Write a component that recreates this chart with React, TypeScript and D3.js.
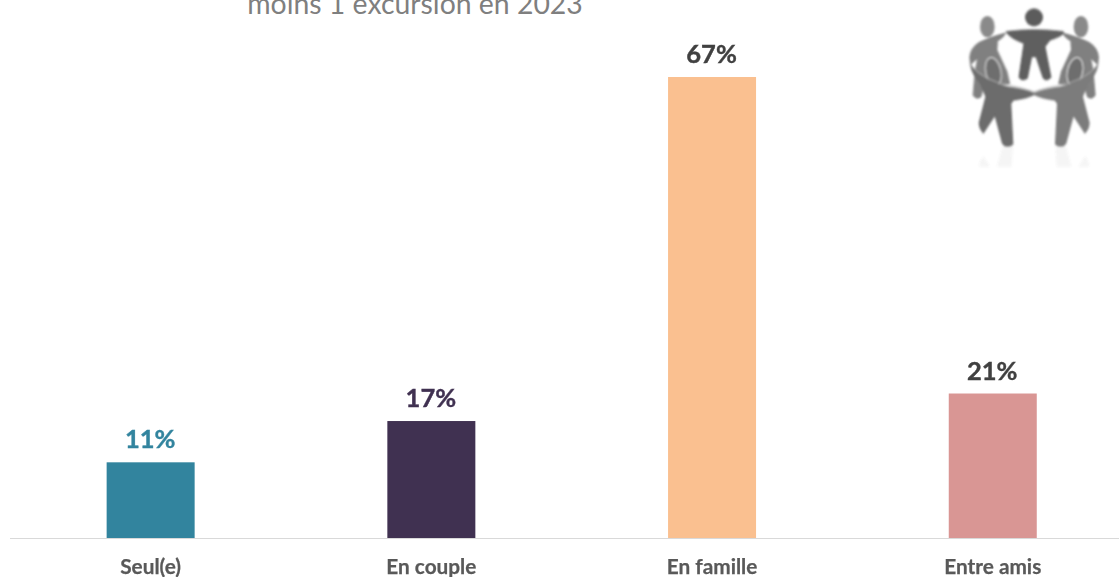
import React from "react";
import * as d3 from "d3";

const categories = ["Seul(e)", "En couple", "En famille", "Entre amis"];
const values = [11, 17, 67, 21];
const barColors = ["#32849e", "#403151", "#fac090", "#d99694"];
const labelColors = ["#32849e", "#403151", "#404040", "#404040"];
const titleLine = "moins 1 excursion en 2023";

const W = 1119, H = 577;
const x = d3.scaleBand<string>().domain(categories).range([10.3, 1133.1]).paddingInner(0.6865).paddingOuter(0.3432);
const y = d3.scaleLinear().domain([0, 67]).range([538, 77]);
const font = "Lato, Carlito, 'Open Sans', sans-serif";
const frontPath = "M62,195 Q100,245 175,262 Q225,268 255,282 Q230,295 190,300 L182,310 L188,432 Q170,445 158,430 L135,345 L100,398 Q88,385 88,368 L108,290 L92,250 Q68,225 62,195 Z";

function Side() {
  return (
    <g>
      <ellipse cx={112} cy={80} rx={22} ry={32} fill="#8a8a8a" />
      <path d="M165,100 Q120,112 88,128 Q62,145 60,172 L62,192 L84,172 L76,215 L70,285 Q78,300 92,290 L100,262 L178,250 L170,215 L140,150 L142,122 Q160,112 165,100 Z" fill="#808080" stroke="#808080" strokeWidth={4} />
      <ellipse cx={130} cy={215} rx={23} ry={43} transform="rotate(-12 130 215)" fill="#6e6e6e" stroke="#e8e8e8" strokeWidth={3} />
    </g>
  );
}

function Icon() {
  return (
    <g transform="translate(950,0) scale(0.3333)" filter="url(#soft)">
      <g clipPath="url(#reflectClip)">
        <g opacity={0.07} transform="translate(0,868) scale(1,-1)">
          <path d={frontPath} fill="#6c6c6c" />
          <g transform="translate(505,0) scale(-1,1)"><path d={frontPath} fill="#6c6c6c" /></g>
        </g>
      </g>
      <Side />
      <g transform="translate(505,0) scale(-1,1)"><Side /></g>
      <circle cx={252} cy={52} r={27} fill="#5c5c5c" />
      <path d="M168,95 Q252,84 340,95 Q345,106 300,120 L285,140 L303,232 Q290,245 280,235 L258,170 L245,170 L232,235 Q215,245 207,232 L222,130 Q180,115 168,95 Z" fill="#5f5f5f" stroke="#5f5f5f" strokeWidth={3} />
      <path d={frontPath} fill="#6c6c6c" stroke="#6c6c6c" strokeWidth={4} />
      <g transform="translate(505,0) scale(-1,1)"><path d={frontPath} fill="#7c7c7c" stroke="#7c7c7c" strokeWidth={4} /></g>
      <path d="M64,198 Q100,240 175,256 Q225,264 252,276 Q280,264 330,256 Q405,240 441,198" fill="none" stroke="#b5b5b5" strokeWidth={3} />
    </g>
  );
}

export default function App() {
  return (
    <svg width={W} height={H} viewBox={`0 0 ${W} ${H}`} style={{ position: "fixed", left: 0, top: 0, background: "#fff" }}>
      <defs>
        <filter id="soft" x="-10%" y="-10%" width="120%" height="120%">
          <feGaussianBlur stdDeviation="2.5" />
        </filter>
        <clipPath id="reflectClip"><rect x={0} y={430} width={510} height={70} /></clipPath>
      </defs>
      <text x={415} y={14} textAnchor="middle" fontFamily={font} fontSize={28.4} fill="#7f7f7f">{titleLine}</text>
      <Icon />
      {categories.map((c, i) => (
        <g key={c}>
          <rect x={x(c)} y={y(values[i])} width={x.bandwidth()} height={y(0) - y(values[i])} fill={barColors[i]} />
          <text x={x(c)! + x.bandwidth() / 2 - 0.5} y={y(values[i]) - 14} textAnchor="middle" fontFamily={font} fontWeight={700} fontSize={25.5} fill={labelColors[i]} stroke={labelColors[i]} strokeWidth={0.4}>{values[i]}%</text>
          <text x={x(c)! + x.bandwidth() / 2} y={574} textAnchor="middle" fontFamily={font} fontWeight={700} fontSize={20.8} fill="#595959" stroke="#595959" strokeWidth={0.25}>{c}</text>
        </g>
      ))}
      <line x1={10} x2={W} y1={538.5} y2={538.5} stroke="#d9d9d9" strokeWidth={1.2} />
    </svg>
  );
}
